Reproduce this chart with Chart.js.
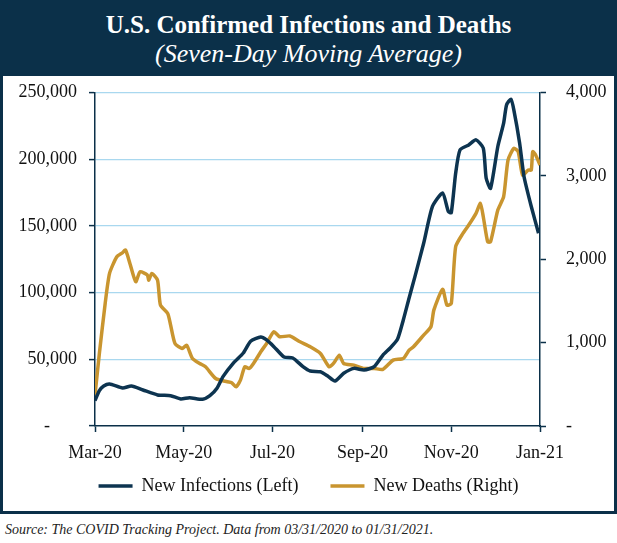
<!DOCTYPE html>
<html>
<head>
<meta charset="utf-8">
<script src="https://cdn.jsdelivr.net/npm/chart.js@4.4.0/dist/chart.umd.min.js"></script>
<style>
    html, body { margin: 0; padding: 0; background: #fff; }
    #frame {
        position: absolute; left: 0; top: 0;
        width: 611px; height: 508px;
        border: 3px solid #0b3049;
    }
    #band {
        position: absolute; left: 0; top: 0;
        width: 611px; height: 73px;
        background: #0b3049; color: #fff;
        font-family: "Liberation Serif", serif;
        text-align: center;
    }
    #band .t1 { position: absolute; left: 0; right: 0; top: 8px; line-height: 28px; font-size: 25px; font-weight: bold; }
    #band .t2 { position: absolute; left: 0; right: 0; top: 37px; line-height: 28px; font-size: 26px; font-style: italic; }
    #plot { position: absolute; left: 0; top: 73px; width: 611px; height: 435px; }
    #source {
        position: absolute; left: 5px; top: 522px;
        font-family: "Liberation Serif", serif; font-style: italic;
        font-size: 14px; color: #222;
    }
</style>
</head>
<body>
<div id="frame">
    <div id="band">
        <div class="t1">U.S. Confirmed Infections and Deaths</div>
        <div class="t2">(Seven-Day Moving Average)</div>
    </div>
    <div id="plot"><canvas id="chart"></canvas></div>
</div>
<div id="source">Source: The COVID Tracking Project. Data from 03/31/2020 to 01/31/2021.</div>

<script>
// x positions are days from the first tick (Mar-20)
const tickDays = [0, 61, 122, 184, 245, 306];
const tickLabels = ['Mar-20', 'May-20', 'Jul-20', 'Sep-20', 'Nov-20', 'Jan-21'];

// New infections, seven-day average (left axis)
const infectionDays = [0, 3, 6, 10, 19, 25, 33, 43, 52, 59, 65, 74, 79, 84, 88, 95, 102, 107, 114, 118,
    123, 130, 136, 143, 148, 155, 160, 165, 171, 178, 185, 192, 198, 203, 208, 212, 216, 220, 226, 232,
    239, 243, 245, 248, 251, 257, 262, 267, 269, 272, 277, 281, 283, 286, 288, 292, 295, 300, 305];
const infectionValues = [19000, 26500, 30000, 31500, 28500, 30000, 27000, 23300, 22700, 20300, 21200, 20000, 22700, 28500, 37000, 47000, 54700, 63500, 66700, 64500,
    59500, 51700, 51000, 44500, 41200, 40700, 37500, 33700, 39500, 43200, 42000, 44500, 53200, 58500, 65000, 79500, 96000, 112000, 137000, 164500,
    174700, 160700, 160000, 189500, 207000, 210700, 214500, 208300, 185700, 178200, 209500, 227000, 240700, 245000, 237000, 212000, 187000, 164500, 144500];

// New deaths, seven-day average (right axis)
const deathDays = [0, 3, 7, 10, 15, 19, 21, 24, 28, 31, 36, 37, 39, 43, 45, 50, 52, 55, 60, 63,
    67, 72, 76, 83, 91, 94, 97, 100, 103, 106, 109, 114, 118, 123, 127, 134, 141, 148, 155, 161,
    164, 168, 171, 178, 185, 192, 198, 205, 212, 216, 219, 226, 231, 233, 239, 242, 245, 248, 253, 257,
    262, 265, 267, 270, 272, 277, 281, 284, 288, 291, 294, 298, 300, 301, 303, 306];
const deathValues = [370, 870, 1470, 1830, 2030, 2080, 2110, 1950, 1730, 1850, 1810, 1750, 1830, 1750, 1450, 1350, 1210, 990, 930, 970,
    810, 750, 710, 570, 530, 520, 470, 550, 710, 690, 750, 890, 990, 1130, 1070, 1080, 1010, 950, 870, 710,
    750, 850, 750, 730, 690, 690, 680, 790, 810, 910, 950, 1090, 1190, 1390, 1640, 1450, 1470, 2150, 2310, 2410,
    2550, 2670, 2510, 2210, 2210, 2590, 2750, 3190, 3330, 3290, 3010, 3070, 3070, 3290, 3250, 3130];

const navy = '#0d3450';
const gold = '#c9952f';
const axisColor = '#0b3049';
const gridBlue = '#a9d8ef';

function toPoints(days, values) {
    return days.map((d, i) => ({ x: d, y: values[i] }));
}

// fixed axis box, and no extra room reserved for the end labels
function fitYAxis(width) {
    return scale => {
        scale.width = width;
        scale.paddingTop = 0;
        scale.paddingBottom = 0;
    };
}

Chart.defaults.font.family = '"Liberation Serif", serif';
Chart.defaults.font.size = 18;
Chart.defaults.color = '#111';

const ctx = document.getElementById('chart').getContext('2d');
new Chart(ctx, {
    type: 'line',
    data: {
        datasets: [
            {
                label: 'New Infections (Left)    ',
                data: toPoints(infectionDays, infectionValues),
                borderColor: navy,
                backgroundColor: navy,
                borderWidth: 3.5,
                pointRadius: 0,
                tension: 0.2,
                yAxisID: 'yLeft'
            },
            {
                label: 'New Deaths (Right)',
                data: toPoints(deathDays, deathValues),
                borderColor: gold,
                backgroundColor: gold,
                borderWidth: 3.5,
                pointRadius: 0,
                tension: 0.2,
                yAxisID: 'yRight'
            }
        ]
    },
    options: {
        responsive: true,
        maintainAspectRatio: false,
        animation: false,
        layout: { padding: { top: 16.5, bottom: 6, left: 0, right: 0 } },
        plugins: {
            tooltip: { enabled: false },
            legend: {
                position: 'bottom',
                labels: {
                    usePointStyle: true,
                    pointStyle: 'line',
                    pointStyleWidth: 34,
                    padding: 14,
                    color: '#111',
                    font: { size: 18 }
                }
            }
        },
        scales: {
            x: {
                type: 'linear',
                min: 0,
                max: 306,
                afterBuildTicks: scale => { scale.ticks = tickDays.map(v => ({ value: v })); },
                afterFit: scale => { scale.height = 37; },
                border: { color: axisColor, width: 1.5 },
                grid: { drawOnChartArea: false, tickLength: 6, tickColor: axisColor, tickWidth: 1.5 },
                ticks: {
                    padding: 10,
                    maxRotation: 0,
                    autoSkip: false,
                    callback: (v, i) => tickLabels[i]
                }
            },
            yLeft: {
                position: 'left',
                min: 0,
                max: 250000,
                afterFit: fitYAxis(92),
                border: { color: axisColor, width: 1.5 },
                grid: {
                    color: c => (c.tick && c.tick.value === 0) ? 'rgba(0,0,0,0)' : gridBlue,
                    lineWidth: 1.2,
                    tickLength: 6,
                    tickColor: axisColor,
                    tickWidth: 1.5
                },
                ticks: {
                    stepSize: 50000,
                    padding: 12,
                    callback: v => v === 0 ? '-      ' : v.toLocaleString('en-US')
                }
            },
            yRight: {
                position: 'right',
                min: 0,
                max: 4000,
                afterFit: fitYAxis(74),
                border: { color: axisColor, width: 1.5 },
                grid: { drawOnChartArea: false, tickLength: 6, tickColor: axisColor, tickWidth: 1.5 },
                ticks: {
                    stepSize: 1000,
                    padding: 20,
                    callback: v => v === 0 ? '-' : v.toLocaleString('en-US')
                }
            }
        }
    }
});
</script>
</body>
</html>
